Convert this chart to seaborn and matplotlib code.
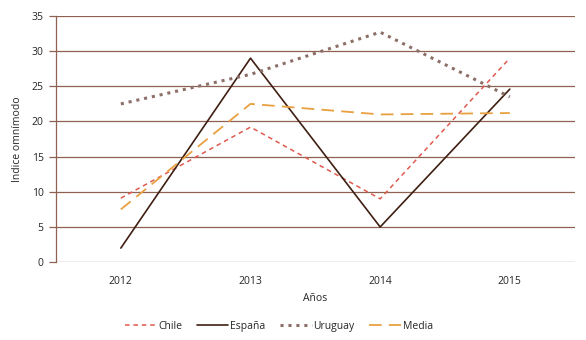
import matplotlib
matplotlib.use('Agg')
from matplotlib import pyplot as plt
import pandas as pd
import seaborn as sns

## Data
years = ['2012', '2013', '2014', '2015']
chile = [9.1, 19.2, 9.0, 29.0]
espana = [2.0, 29.0, 5.0, 24.6]
uruguay = [22.5, 26.7, 32.7, 23.5]
media = [7.5, 22.5, 21.0, 21.2]

series = ['Chile', 'España', 'Uruguay', 'Media']
df = pd.DataFrame({'Año': years * 4,
                   'Valor': chile + espana + uruguay + media,
                   'Serie': [s for s in series for _ in years]})

colors = {'Chile': '#df5a4e', 'España': '#3e1f12', 'Uruguay': '#8c7068', 'Media': '#e8a040'}
styles = {'Chile': (0, (3, 2.5)), 'España': '-', 'Uruguay': (0, (1, 1.6)), 'Media': (0, (7, 4))}
widths = {'Chile': 1.1, 'España': 1.2, 'Uruguay': 2.2, 'Media': 1.3}
grid_col = '#8e6153'

sns.set_style('white')
plt.rcParams['font.family'] = ['Open Sans', 'DejaVu Sans']

fig = plt.figure(figsize=(5.86, 3.4), dpi=100)
ax = fig.add_axes([0.0956, 0.229, 0.885, 0.724])

for s in series:
    sns.lineplot(data=df[df['Serie'] == s], x='Año', y='Valor', ax=ax, color=colors[s],
                 linestyle=styles[s], linewidth=widths[s], label=s, sort=False)

ax.set_xlim(-0.5, 3.5)
ax.set_ylim(0, 35)
ax.set_yticks(range(0, 36, 5))
ax.yaxis.grid(True, color=grid_col, linewidth=0.9)
ax.set_axisbelow(True)
for side in ['top', 'right', 'bottom']:
    ax.spines[side].set_visible(False)
ax.spines['left'].set_color(grid_col)
ax.spines['left'].set_linewidth(0.9)
ax.tick_params(axis='y', length=5, width=0.9, color=grid_col, labelsize=7.5, pad=4, left=True)
ax.tick_params(axis='x', length=0, labelsize=7.5, pad=10)
ax.set_xlabel('Años', fontsize=7.5, labelpad=4)
ax.set_ylabel('Indice omnímodo', fontsize=7.5, labelpad=6)

ax.legend(loc='upper center', bbox_to_anchor=(0.43, -0.2), ncol=4, frameon=False,
          fontsize=7.5, handlelength=3.0, columnspacing=1.4, handletextpad=0.2)

fig.savefig('out.png', dpi=100)
